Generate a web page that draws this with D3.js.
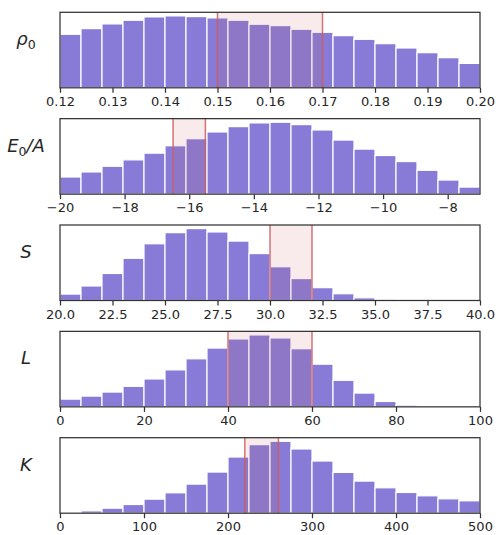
<!DOCTYPE html>
<html>
<head>
<meta charset="utf-8">
<script src="https://cdn.jsdelivr.net/npm/d3@7"></script>
<style>
  html, body { margin: 0; padding: 0; background: #fff; }
  svg { display: block; }
  text { font-family: "DejaVu Sans", sans-serif; fill: #262626; }
</style>
</head>
<body>
<svg id="chart" width="501" height="535"></svg>
<script>
// ---- data (bin counts, 20 equal bins per panel) ----
const rhoCounts = [160, 177, 191, 202, 212, 215, 213, 209, 202, 190, 186, 175, 166, 156, 145, 132, 119, 105, 90, 73];
const e0Counts  = [51, 66, 83, 102, 122, 144, 165, 185, 201, 212, 214, 207, 191, 161, 134, 115, 97, 71, 42, 21];
const sCounts   = [19, 43, 80, 125, 168, 201, 213, 203, 176, 139, 100, 65, 38, 20, 8, 2, 0, 0, 0, 0];
const lCounts   = [23, 32, 44, 61, 83, 110, 143, 175, 202, 214, 205, 173, 127, 79, 41, 16, 5, 0, 0, 0];
const kCounts   = [0, 7, 15, 26, 42, 61, 87, 123, 168, 205, 215, 192, 156, 122, 96, 76, 62, 52, 43, 37];

const rhoDomain = [0.12, 0.20];
const e0Domain  = [-20, -7];
const sDomain   = [20, 40];
const lDomain   = [0, 100];
const kDomain   = [0, 500];

const rhoBand = [0.15, 0.17];
const e0Band  = [-16.5, -15.5];
const sBand   = [30, 32];
const lBand   = [40, 60];
const kBand   = [220, 260];

const rhoTicks = [0.12, 0.13, 0.14, 0.15, 0.16, 0.17, 0.18, 0.19, 0.20];
const e0Ticks  = [-20, -18, -16, -14, -12, -10, -8];
const sTicks   = [20, 22.5, 25, 27.5, 30, 32.5, 35, 37.5, 40];
const lTicks   = [0, 20, 40, 60, 80, 100];
const kTicks   = [0, 100, 200, 300, 400, 500];

const panels = [
  { label: ["ρ", "0", ""],  counts: rhoCounts, domain: rhoDomain, band: rhoBand, ticks: rhoTicks, fmt: d3.format(".2f") },
  { label: ["E", "0", "/A"], counts: e0Counts, domain: e0Domain,  band: e0Band,  ticks: e0Ticks,  fmt: d3.format("d") },
  { label: ["S", "", ""],   counts: sCounts,   domain: sDomain,   band: sBand,   ticks: sTicks,   fmt: d3.format(".1f") },
  { label: ["L", "", ""],   counts: lCounts,   domain: lDomain,   band: lBand,   ticks: lTicks,   fmt: d3.format("d") },
  { label: ["K", "", ""],   counts: kCounts,   domain: kDomain,   band: kBand,   ticks: kTicks,   fmt: d3.format("d") }
];

// ---- layout ----
const left = 60, right = 480;
const top0 = 12.3, step = 106.35, ph = 75.5;
const barColor = "#877bd7";
const bandColor = "#cd5c5c";
const frameColor = "#333333";

const svg = d3.select("#chart");

panels.forEach((p, i) => {
  const top = top0 + i * step;
  const g = svg.append("g");
  const x = d3.scaleLinear().domain(p.domain).range([left, right]);
  const y = d3.scaleLinear().domain([0, d3.max(p.counts) * 1.05]).range([top + ph, top]);
  const n = p.counts.length;
  const w = (p.domain[1] - p.domain[0]) / n;
  const bins = p.counts.map((c, j) => ({ x0: p.domain[0] + j * w, x1: p.domain[0] + (j + 1) * w, c }));

  // bars
  g.selectAll("rect.bar").data(bins.filter(b => b.c > 0)).join("rect")
    .attr("class", "bar")
    .attr("x", b => x(b.x0))
    .attr("width", b => x(b.x1) - x(b.x0))
    .attr("y", b => y(b.c))
    .attr("height", b => y(0) - y(b.c))
    .attr("fill", barColor)
    .attr("stroke", "#ffffff")
    .attr("stroke-width", 1.2);

  // shaded band
  g.append("rect")
    .attr("x", x(p.band[0]))
    .attr("width", x(p.band[1]) - x(p.band[0]))
    .attr("y", top)
    .attr("height", ph)
    .attr("fill", bandColor)
    .attr("fill-opacity", 0.12);
  g.selectAll("line.band").data(p.band).join("line")
    .attr("class", "band")
    .attr("x1", d => x(d)).attr("x2", d => x(d))
    .attr("y1", top).attr("y2", top + ph)
    .attr("stroke", bandColor)
    .attr("stroke-opacity", 0.85)
    .attr("stroke-width", 1.5);

  // frame
  g.append("rect")
    .attr("x", left).attr("y", top)
    .attr("width", right - left).attr("height", ph)
    .attr("fill", "none")
    .attr("stroke", frameColor)
    .attr("stroke-width", 1.25);

  // x axis
  const ax = g.append("g")
    .attr("transform", `translate(0,${top + ph})`)
    .call(d3.axisBottom(x).tickValues(p.ticks).tickSize(5).tickPadding(4)
      .tickFormat(d => p.fmt(d).replace("-", "\u2212")));
  ax.select(".domain").remove();
  ax.selectAll(".tick line").attr("stroke", frameColor).attr("stroke-width", 1.25);
  ax.selectAll(".tick text").attr("font-size", 13).attr("fill", "#262626")
    .style("font-family", "DejaVu Sans, sans-serif");

  // y label (math-style italic with subscript)
  const t = g.append("text")
    .attr("x", 26).attr("y", top + 33)
    .attr("text-anchor", "middle")
    .attr("font-size", 18)
    .attr("font-style", "italic");
  t.append("tspan").text(p.label[0]);
  if (p.label[1]) {
    t.append("tspan").attr("font-size", 12.5).attr("font-style", "normal").attr("dy", 4).text(p.label[1]);
  }
  if (p.label[2]) {
    t.append("tspan").attr("dy", -4).text(p.label[2]);
  }
});
</script>
</body>
</html>
